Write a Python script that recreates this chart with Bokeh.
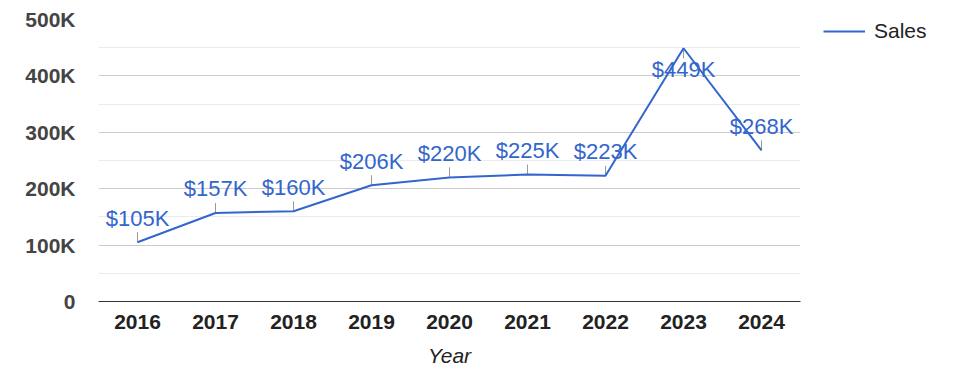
from bokeh.plotting import figure
from bokeh.models import (ColumnDataSource, Range1d, FactorRange, FixedTicker,
                          Legend, LegendItem)
from bokeh.embed import file_html
from bokeh.resources import INLINE
from bokeh.core.properties import value

# ---- data ----
years = ["2016", "2017", "2018", "2019", "2020", "2021", "2022", "2023", "2024"]
sales = [105000, 157000, 160000, 206000, 220000, 225000, 223000, 449000, 268000]
y_ticks = [0, 100000, 200000, 300000, 400000, 500000]
y_tick_labels = ["0", "100K", "200K", "300K", "400K", "500K"]
y_minor = [50000, 150000, 250000, 350000, 450000]
series_name = "Sales"
x_title = "Year"

FONT = "Liberation Sans"
BLUE = "#3366cc"
FRAME_W, FRAME_H = 702, 282

labels = ["$%dK" % round(v / 1000) for v in sales]
ymax = y_ticks[-1]
# labels go above the point unless there is no room near the top
above = [v < ymax * 0.85 for v in sales]
px_per_unit = FRAME_H / ymax
stem_px = 10
stem_end = [v + (stem_px / px_per_unit if a else -stem_px / px_per_unit)
            for v, a in zip(sales, above)]

src = ColumnDataSource(dict(x=years, y=sales, lab=labels, y1=stem_end))
up = ColumnDataSource(dict(x=[x for x, a in zip(years, above) if a],
                           y=[v for v, a in zip(sales, above) if a],
                           lab=[l for l, a in zip(labels, above) if a]))
down = ColumnDataSource(dict(x=[x for x, a in zip(years, above) if not a],
                             y=[v for v, a in zip(sales, above) if not a],
                             lab=[l for l, a in zip(labels, above) if not a]))

p = figure(frame_width=FRAME_W, frame_height=FRAME_H,
           output_backend="svg", toolbar_location=None,
           x_range=FactorRange(*years, range_padding=0),
           y_range=Range1d(0, ymax),
           min_border_left=98, min_border_right=175,
           min_border_top=19, min_border_bottom=50)
p.outline_line_color = None
p.background_fill_color = "white"
p.border_fill_color = "white"

# grid
p.xgrid.grid_line_color = None
p.yaxis.ticker = FixedTicker(ticks=y_ticks, minor_ticks=y_minor)
p.ygrid.grid_line_color = "#cccccc"
p.ygrid.minor_grid_line_color = "#ebebeb"

# stems
p.segment(x0="x", y0="y", x1="x", y1="y1", source=src,
          line_color="#999999", line_width=1)

# line
r = p.line("x", "y", source=src, line_color=BLUE, line_width=2)

# annotations
p.text("x", "y", text="lab", source=up, text_align="center",
       text_baseline="alphabetic", y_offset=-24,
       text_font=value(FONT), text_font_size="22px", text_color=BLUE)
p.text("x", "y", text="lab", source=down, text_align="center",
       text_baseline="alphabetic", y_offset=21,
       text_font=value(FONT), text_font_size="22px", text_color=BLUE)

# axes
p.yaxis.major_label_overrides = {t: l for t, l in zip(y_ticks, y_tick_labels)}
p.yaxis.axis_line_color = None
p.yaxis.major_tick_line_color = None
p.yaxis.minor_tick_line_color = None
p.yaxis.major_tick_out = 0
p.yaxis.minor_tick_out = 0
p.yaxis.major_label_standoff = 23
p.yaxis.major_label_text_font = FONT
p.yaxis.major_label_text_font_size = "21px"
p.yaxis.major_label_text_font_style = "bold"
p.yaxis.major_label_text_color = "#444444"

p.xaxis.axis_line_color = "#333333"
p.xaxis.axis_line_width = 1
p.xaxis.major_tick_line_color = None
p.xaxis.minor_tick_line_color = None
p.xaxis.major_tick_out = 0
p.xaxis.minor_tick_out = 0
p.xaxis.major_label_standoff = 13
p.xaxis.major_label_text_font = FONT
p.xaxis.major_label_text_font_size = "21px"
p.xaxis.major_label_text_font_style = "bold"
p.xaxis.major_label_text_color = "#222222"
p.xaxis.axis_label = x_title
p.xaxis.axis_label_text_font = FONT
p.xaxis.axis_label_text_font_size = "21px"
p.xaxis.axis_label_text_font_style = "italic"
p.xaxis.axis_label_text_color = "#222222"
p.xaxis.axis_label_standoff = 12

legend = Legend(items=[LegendItem(label=series_name, renderers=[r])],
                location=(23, 258), margin=0, padding=0,
                glyph_width=42, label_standoff=9,
                label_text_font=FONT, label_text_font_size="21px",
                label_text_color="#222222",
                border_line_color=None, background_fill_alpha=0)
p.add_layout(legend, "right")

open("out.html", "w").write(file_html(p, INLINE))
